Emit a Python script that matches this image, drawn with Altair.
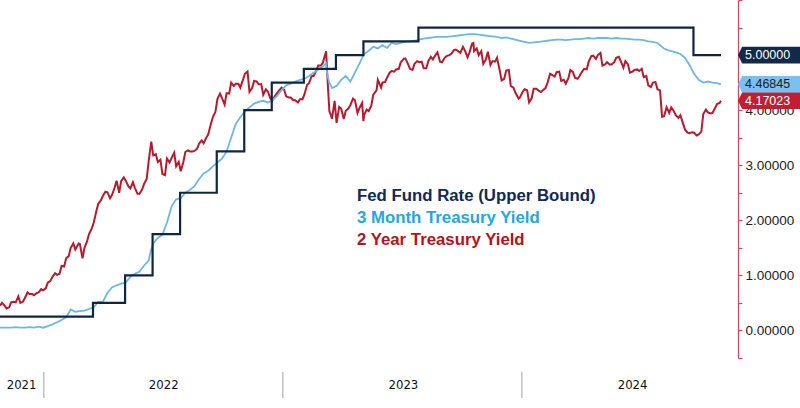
import altair as alt
import pandas as pd

# ---------------- data ----------------
dates_2021 = ["2021-10-26", "2021-10-29", "2021-11-05", "2021-11-12", "2021-11-19", "2021-11-26",
              "2021-12-03", "2021-12-10", "2021-12-17", "2021-12-24", "2021-12-31"]
y2_2021 = [0.45, 0.50, 0.40, 0.51, 0.51, 0.50, 0.59, 0.66, 0.64, 0.69, 0.73]
m3_2021 = [0.05, 0.05, 0.05, 0.05, 0.06, 0.05, 0.05, 0.06, 0.05, 0.07, 0.05]

dates_2022 = ["2022-01-07", "2022-01-14", "2022-01-21", "2022-01-28",
              "2022-02-04", "2022-02-11", "2022-02-18", "2022-02-25",
              "2022-03-04", "2022-03-11", "2022-03-18", "2022-03-25",
              "2022-04-01", "2022-04-08", "2022-04-15", "2022-04-22", "2022-04-29",
              "2022-05-06", "2022-05-13", "2022-05-20", "2022-05-27",
              "2022-06-03", "2022-06-10", "2022-06-14", "2022-06-17", "2022-06-24",
              "2022-07-01", "2022-07-08", "2022-07-15", "2022-07-22", "2022-07-29",
              "2022-08-05", "2022-08-12", "2022-08-19", "2022-08-26",
              "2022-09-02", "2022-09-09", "2022-09-16", "2022-09-23", "2022-09-30",
              "2022-10-07", "2022-10-14", "2022-10-21", "2022-10-28",
              "2022-11-04", "2022-11-11", "2022-11-18", "2022-11-25",
              "2022-12-02", "2022-12-09", "2022-12-16", "2022-12-23", "2022-12-30"]
y2_2022 = [0.87, 0.97, 1.01, 1.17, 1.31, 1.50, 1.47, 1.57, 1.50, 1.75, 1.95, 2.30,
           2.44, 2.51, 2.46, 2.72, 2.71, 2.72, 2.58, 2.59, 2.48, 2.66, 3.07, 3.43, 3.18, 3.06,
           2.84, 3.12, 3.13, 2.98, 2.89, 3.24, 3.25, 3.26, 3.39, 3.40, 3.56, 3.87, 4.20, 4.22,
           4.31, 4.50, 4.48, 4.41, 4.66, 4.33, 4.53, 4.47, 4.28, 4.34, 4.18, 4.31, 4.41]
m3_2022 = [0.08, 0.11, 0.15, 0.19, 0.24, 0.38, 0.34, 0.35, 0.36, 0.39, 0.42, 0.52,
           0.52, 0.68, 0.78, 0.82, 0.85, 0.87, 0.97, 1.03, 1.07, 1.18, 1.27, 1.48, 1.58, 1.68,
           1.74, 1.96, 2.25, 2.38, 2.40, 2.50, 2.55, 2.62, 2.75, 2.85, 2.90, 2.98, 3.05, 3.12,
           3.25, 3.50, 3.75, 3.87, 3.98, 4.05, 4.12, 4.15, 4.17, 4.14, 4.18, 4.26, 4.36]

dates_2023 = ["2023-01-06", "2023-01-13", "2023-01-20", "2023-01-27",
              "2023-02-03", "2023-02-10", "2023-02-17", "2023-02-24",
              "2023-03-03", "2023-03-08", "2023-03-10", "2023-03-13", "2023-03-17", "2023-03-24", "2023-03-31",
              "2023-04-07", "2023-04-14", "2023-04-21", "2023-04-28",
              "2023-05-05", "2023-05-12", "2023-05-19", "2023-05-26",
              "2023-06-02", "2023-06-09", "2023-06-16", "2023-06-23", "2023-06-30",
              "2023-07-07", "2023-07-14", "2023-07-21", "2023-07-28",
              "2023-08-04", "2023-08-11", "2023-08-18", "2023-08-25",
              "2023-09-01", "2023-09-08", "2023-09-15", "2023-09-22", "2023-09-29",
              "2023-10-06", "2023-10-13", "2023-10-19", "2023-10-20", "2023-10-27",
              "2023-11-03", "2023-11-10", "2023-11-17", "2023-11-24",
              "2023-12-01", "2023-12-08", "2023-12-15", "2023-12-22", "2023-12-29"]
y2_2023 = [4.25, 4.23, 4.18, 4.20, 4.29, 4.49, 4.62, 4.81,
           4.86, 5.07, 4.59, 3.98, 3.84, 3.77, 4.03, 3.99, 4.09, 4.18, 4.04,
           3.91, 3.98, 4.28, 4.55, 4.50, 4.59, 4.71, 4.74, 4.87, 4.94, 4.75, 4.84, 4.87,
           4.76, 4.89, 4.92, 5.05, 4.87, 4.98, 5.02, 5.10, 5.04, 5.08, 5.05, 5.22, 5.07, 5.00,
           4.84, 5.06, 4.89, 4.95, 4.54, 4.72, 4.44, 4.32, 4.23]
m3_2023 = [4.45, 4.48, 4.52, 4.55, 4.57, 4.62, 4.68, 4.74,
           4.80, 4.85, 4.62, 4.50, 4.40, 4.44, 4.55, 4.62, 4.52, 4.68, 4.85,
           5.02, 5.08, 5.15, 5.12, 5.18, 5.13, 5.22, 5.20, 5.22, 5.24, 5.25, 5.26, 5.28,
           5.30, 5.31, 5.32, 5.33, 5.33, 5.33, 5.34, 5.35, 5.36, 5.37, 5.38, 5.38, 5.38, 5.37,
           5.36, 5.35, 5.34, 5.33, 5.31, 5.32, 5.30, 5.28, 5.26]

dates_2024 = ["2024-01-05", "2024-01-12", "2024-01-19", "2024-01-26",
              "2024-02-02", "2024-02-09", "2024-02-16", "2024-02-23",
              "2024-03-01", "2024-03-08", "2024-03-15", "2024-03-22", "2024-03-29",
              "2024-04-05", "2024-04-12", "2024-04-19", "2024-04-26",
              "2024-05-03", "2024-05-10", "2024-05-17", "2024-05-24", "2024-05-31",
              "2024-06-07", "2024-06-14", "2024-06-21", "2024-06-28",
              "2024-07-05", "2024-07-12", "2024-07-19", "2024-07-26",
              "2024-08-02", "2024-08-05", "2024-08-09", "2024-08-16", "2024-08-23", "2024-08-30",
              "2024-09-06", "2024-09-13", "2024-09-20", "2024-09-27",
              "2024-10-04", "2024-10-11", "2024-10-18", "2024-10-25", "2024-10-31"]
y2_2024 = [4.38, 4.14, 4.39, 4.36, 4.36, 4.49, 4.64, 4.69, 4.53, 4.48, 4.73, 4.59, 4.62,
           4.75, 4.88, 4.99, 5.00, 4.81, 4.87, 4.83, 4.95, 4.89, 4.89, 4.68, 4.73, 4.71,
           4.60, 4.45, 4.50, 4.38, 3.88, 3.89, 4.05, 4.05, 3.91, 3.91,
           3.65, 3.58, 3.59, 3.56, 3.93, 3.96, 3.95, 4.11, 4.17023]
m3_2024 = [5.24, 5.22, 5.23, 5.24, 5.25, 5.26, 5.27, 5.28, 5.28, 5.27, 5.28, 5.29, 5.29,
           5.30, 5.31, 5.30, 5.31, 5.31, 5.31, 5.30, 5.31, 5.30, 5.30, 5.29, 5.28, 5.28,
           5.27, 5.25, 5.24, 5.22, 5.15, 5.12, 5.10, 5.07, 5.05, 5.02,
           4.95, 4.82, 4.66, 4.55, 4.50, 4.52, 4.50, 4.49, 4.46845]

# extra mid-week 2-year readings (Tuesdays)
y2_mid_dates = ["2021-11-02", "2021-11-09", "2021-11-16", "2021-11-23", "2021-11-30", "2021-12-07",
                "2021-12-14", "2021-12-21", "2021-12-28",
                "2022-01-04", "2022-01-11", "2022-01-18", "2022-01-25", "2022-02-01", "2022-02-08",
                "2022-02-15", "2022-02-23", "2022-03-01", "2022-03-08", "2022-03-15", "2022-03-22",
                "2022-03-29", "2022-04-05", "2022-04-12", "2022-04-19", "2022-04-26", "2022-05-03",
                "2022-05-10", "2022-05-17", "2022-05-24", "2022-05-31", "2022-06-07", "2022-06-21",
                "2022-06-28", "2022-07-05", "2022-07-12", "2022-07-19", "2022-07-26", "2022-08-02",
                "2022-08-09", "2022-08-16", "2022-08-23", "2022-08-30", "2022-09-06", "2022-09-13",
                "2022-09-20", "2022-09-27", "2022-10-04", "2022-10-11", "2022-10-18", "2022-10-25",
                "2022-11-01", "2022-11-08", "2022-11-15", "2022-11-22", "2022-11-29", "2022-12-06",
                "2022-12-13", "2022-12-20", "2022-12-27",
                "2023-01-03", "2023-01-10", "2023-01-17", "2023-01-24", "2023-01-31", "2023-02-07",
                "2023-02-14", "2023-02-21", "2023-02-28", "2023-03-15", "2023-03-21", "2023-03-28",
                "2023-04-04", "2023-04-11", "2023-04-18", "2023-04-25", "2023-05-02", "2023-05-04",
                "2023-05-09", "2023-05-16", "2023-05-24", "2023-05-31", "2023-06-06", "2023-06-13",
                "2023-06-20", "2023-06-27", "2023-07-05", "2023-07-11", "2023-07-18", "2023-07-25",
                "2023-08-01", "2023-08-08", "2023-08-15", "2023-08-22", "2023-08-29", "2023-09-05",
                "2023-09-12", "2023-09-19", "2023-09-26", "2023-10-03", "2023-10-10", "2023-10-17",
                "2023-10-24", "2023-10-31", "2023-11-07", "2023-11-14", "2023-11-21", "2023-11-28",
                "2023-12-05", "2023-12-12", "2023-12-19", "2023-12-27",
                "2024-01-02", "2024-01-09", "2024-01-16", "2024-01-23", "2024-01-30", "2024-02-06",
                "2024-02-13", "2024-02-20", "2024-02-27", "2024-03-05", "2024-03-12", "2024-03-19",
                "2024-03-26", "2024-04-02", "2024-04-09", "2024-04-16", "2024-04-23", "2024-04-30",
                "2024-05-07", "2024-05-14", "2024-05-21", "2024-05-28", "2024-06-04", "2024-06-11",
                "2024-06-18", "2024-06-25", "2024-07-02", "2024-07-09", "2024-07-16", "2024-07-23",
                "2024-07-30", "2024-08-13", "2024-08-20", "2024-08-27", "2024-09-03", "2024-09-10",
                "2024-09-17", "2024-09-24", "2024-10-01", "2024-10-08", "2024-10-15", "2024-10-22",
                "2024-10-29"]
y2_mid_vals = [0.45, 0.42, 0.52, 0.62, 0.52, 0.69, 0.66, 0.68, 0.75,
               0.77, 0.90, 1.04, 1.03, 1.16, 1.35, 1.58, 1.58, 1.31, 1.62, 1.85, 2.16,
               2.36, 2.52, 2.40, 2.59, 2.50, 2.78, 2.62, 2.69, 2.48, 2.56, 2.75, 3.20,
               3.10, 2.82, 3.05, 3.23, 3.06, 3.06, 3.27, 3.25, 3.30, 3.45, 3.50, 3.75,
               3.97, 4.30, 4.10, 4.30, 4.44, 4.48, 4.55, 4.70, 4.40, 4.52, 4.47, 4.38,
               4.21, 4.26, 4.37,
               4.37, 4.23, 4.18, 4.14, 4.20, 4.46, 4.62, 4.72, 4.81, 3.92, 4.17, 4.06,
               3.84, 4.03, 4.21, 3.95, 4.13, 3.80, 4.01, 4.08, 4.36, 4.41, 4.51, 4.68,
               4.70, 4.75, 4.94, 4.84, 4.73, 4.89, 4.88, 4.76, 4.97, 5.00, 4.88, 4.95,
               5.00, 5.09, 5.07, 5.15, 4.96, 5.21, 5.12, 5.07, 4.92, 4.82, 4.88, 4.73,
               4.57, 4.73, 4.41, 4.21,
               4.33, 4.36, 4.22, 4.39, 4.33, 4.40, 4.66, 4.61, 4.70, 4.55, 4.58, 4.69,
               4.57, 4.70, 4.74, 4.98, 4.93, 5.04, 4.83, 4.83, 4.87, 4.97, 4.77, 4.83,
               4.70, 4.74, 4.75, 4.62, 4.42, 4.51, 4.36, 3.95, 3.98, 3.86, 3.76, 3.59,
               3.60, 3.54, 3.61, 4.01, 3.94, 4.04, 4.13]

fed_dates = ["2021-10-26", "2022-03-17", "2022-05-05", "2022-06-16", "2022-07-28", "2022-09-22",
             "2022-11-03", "2022-12-15", "2023-02-02", "2023-03-23", "2023-05-04", "2023-07-27",
             "2024-09-19", "2024-10-31"]
fed_vals = [0.25, 0.50, 1.00, 1.75, 2.50, 3.25, 4.00, 4.50, 4.75, 5.00, 5.25, 5.50, 5.00, 5.00]

year_labels = ["2021", "2022", "2023", "2024"]
year_label_dates = ["2021-11-28", "2022-07-03", "2023-07-04", "2024-06-18"]
year_breaks = ["2022-01-01", "2023-01-01", "2024-01-01"]

tag_values = [5.0, 4.46845, 4.17023]
tag_texts = ["5.00000", "4.46845", "4.17023"]
tag_fills = ["#13294b", "#7cc0f0", "#c01f33"]
tag_text_colors = ["#ffffff", "#1a1a1a", "#ffffff"]

legend_labels = ["Fed Fund Rate (Upper Bound)", "3 Month Treasury Yield", "2 Year Treasury Yield"]
legend_colors = ["#0f2a55", "#26a6de", "#b5121b"]

C_FED, C_3M, C_2Y = "#0f2540", "#6cb6ea", "#b8192d"
AXIS_RED = "#d04a5a"

# ---------------- frames ----------------
week_dates = dates_2021 + dates_2022 + dates_2023 + dates_2024
y2_week = y2_2021 + y2_2022 + y2_2023 + y2_2024
m3_week = m3_2021 + m3_2022 + m3_2023 + m3_2024
df_2y = pd.DataFrame({"date": week_dates + y2_mid_dates, "value": y2_week + y2_mid_vals})
df_2y = df_2y.sort_values("date").reset_index(drop=True)
df_3m = pd.DataFrame({"date": week_dates, "value": m3_week})
df_fed = pd.DataFrame({"date": fed_dates, "value": fed_vals})
df_years = pd.DataFrame({"date": year_label_dates, "label": year_labels})
df_breaks = pd.DataFrame({"date": year_breaks})
df_tags = pd.DataFrame({"value": tag_values, "text": tag_texts, "fill": tag_fills, "tc": tag_text_colors})
df_legend = pd.DataFrame({"label": legend_labels, "color": legend_colors})

W, H = 738, 358
x_scale = alt.Scale(domain=["2021-10-26", "2024-11-26"])
y_scale = alt.Scale(domain=[-0.5, 6.0], nice=False, zero=False)

tick_vals = [-0.5 + 0.5 * i for i in range(14)]
y_axis = alt.Axis(
    orient="right", values=tick_vals, title=None, grid=False,
    labelExpr="(datum.value % 1 == 0 && datum.value >= 0 && datum.value <= 4) ? format(datum.value, '.5f') : ''",
    domainColor=AXIS_RED, domainWidth=1.2, tickColor=AXIS_RED, tickSize=4, tickWidth=1.2,
    labelFont="Liberation Sans", labelFontSize=13.5, labelColor="#222222", labelPadding=3,
    labelOverlap=False, labelFlush=False,
)
x_axis = alt.Axis(
    orient="bottom", title=None, grid=False, labels=False,
    tickCount=alt.TimeIntervalStep(interval="month", step=1),
    domainColor="#b0b0b0", tickColor="#b0b0b0", tickSize=3,
)

line_2y = alt.Chart(df_2y).mark_line(color=C_2Y, strokeWidth=2).encode(
    x=alt.X("date:T", scale=x_scale, axis=x_axis),
    y=alt.Y("value:Q", scale=y_scale, axis=y_axis),
)
line_3m = alt.Chart(df_3m).mark_line(color=C_3M, strokeWidth=1.8).encode(
    x=alt.X("date:T", scale=x_scale, axis=None),
    y=alt.Y("value:Q", scale=y_scale, axis=None),
)
line_fed = alt.Chart(df_fed).mark_line(color=C_FED, strokeWidth=2.2, interpolate="step-after").encode(
    x=alt.X("date:T", scale=x_scale, axis=None),
    y=alt.Y("value:Q", scale=y_scale, axis=None),
)

tag_path = "M-1,0 L-0.87,-0.26 L1,-0.26 L1,0.26 L-0.87,0.26 Z"
tags = alt.Chart(df_tags).mark_point(shape=tag_path, size=4096, filled=True, opacity=1, strokeWidth=0).encode(
    x=alt.value(W + 32),
    y=alt.Y("value:Q", scale=y_scale, axis=None),
    fill=alt.Fill("fill:N", scale=None),
)
tag_txt = alt.Chart(df_tags).mark_text(align="left", baseline="middle", font="Liberation Sans", fontSize=12.5).encode(
    x=alt.value(W + 7),
    y=alt.Y("value:Q", scale=y_scale, axis=None),
    text="text:N",
    color=alt.Color("tc:N", scale=None),
)

legend = alt.Chart(df_legend).mark_text(align="left", baseline="middle", font="Liberation Sans",
                                        fontSize=16.8, fontWeight="bold").encode(
    x=alt.value(357),
    y=alt.Y("label:N", sort=legend_labels,
            scale=alt.Scale(type="point", range=[196, 240], padding=0), axis=None),
    text="label:N",
    color=alt.Color("color:N", scale=None),
)

years = alt.Chart(df_years).mark_text(align="center", baseline="middle", font="DejaVu Sans Condensed, DejaVu Sans",
                                      fontSize=13, color="#111111").encode(
    x=alt.X("date:T", scale=x_scale, axis=None),
    y=alt.value(385),
    text="label:N",
)
breaks = alt.Chart(df_breaks).mark_rule(color="#a0a0a0", strokeWidth=1).encode(
    x=alt.X("date:T", scale=x_scale, axis=None),
    y=alt.value(372),
    y2=alt.value(398),
)

chart = alt.layer(line_2y, line_3m, line_fed, tags, tag_txt, legend, years, breaks).properties(
    width=W, height=H,
    autosize=alt.AutoSizeParams(type="none"),
    padding={"left": 0, "top": 0, "right": 62, "bottom": 50},
    background="white",
).configure_view(stroke=None)

chart.save("out.html", embed_options={"renderer": "svg", "actions": False})
